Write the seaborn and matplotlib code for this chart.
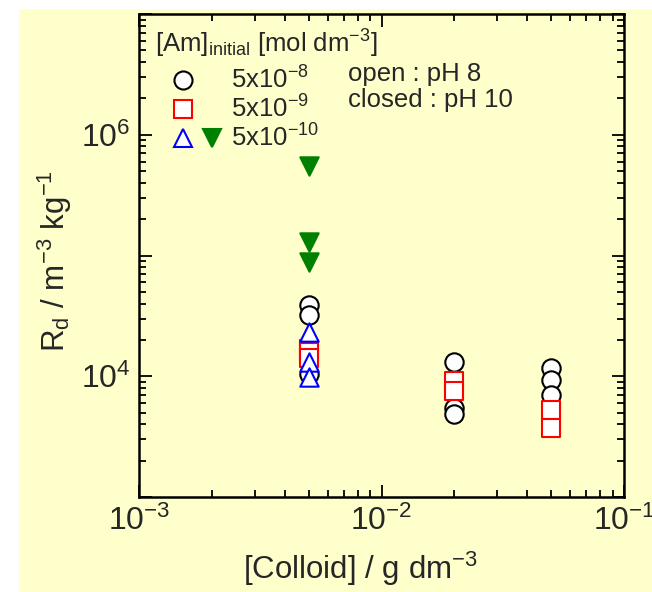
import numpy as np
import pandas as pd
import matplotlib; matplotlib.use('Agg')
import matplotlib.pyplot as plt
from matplotlib.lines import Line2D
from matplotlib.legend_handler import HandlerTuple
from matplotlib.patches import Rectangle
from matplotlib.ticker import LogLocator, FuncFormatter, NullFormatter
import seaborn as sns

# Rd vs colloid concentration, grouped by initial Am concentration / pH
colloid_5e8 = [0.005, 0.005, 0.005, 0.02, 0.02, 0.02, 0.05, 0.05, 0.05]
rd_5e8 = [3.9e4, 3.2e4, 1.05e4, 1.32e4, 5.5e3, 4.9e3, 1.16e4, 9.3e3, 7.0e3]

colloid_5e9 = [0.005, 0.005, 0.005, 0.02, 0.02, 0.05, 0.05]
rd_5e9 = [1.67e4, 1.58e4, 1.41e4, 9.1e3, 7.5e3, 5.25e3, 3.76e3]

colloid_5e10 = [0.005, 0.005, 0.005]
rd_5e10 = [2.33e4, 1.32e4, 9.8e3]

colloid_5e10_ph10 = [0.005, 0.005, 0.005]
rd_5e10_ph10 = [5.5e5, 1.3e5, 8.8e4]

legend_labels = [r'$\mathregular{5x10^{-8}}$', r'$\mathregular{5x10^{-9}}$',
                 r'$\mathregular{5x10^{-10}}$']

BG = '#FFFFCC'
FS = 18.5

sns.set_style('ticks')
plt.rcParams['font.family'] = ['Liberation Sans', 'DejaVu Sans']
plt.rcParams['mathtext.fontset'] = 'custom'
plt.rcParams['mathtext.rm'] = 'Liberation Sans'
plt.rcParams['mathtext.it'] = 'Liberation Sans:italic'
plt.rcParams['mathtext.bf'] = 'Liberation Sans:bold'

fig = plt.figure(figsize=(6.52, 5.92), dpi=100, facecolor=BG)
fig.patches.extend([
    Rectangle((0, 1 - 8 / 592), 1, 8 / 592, transform=fig.transFigure,
              color='white', zorder=-10),
    Rectangle((0, 0), 18 / 652, 1, transform=fig.transFigure,
              color='white', zorder=-10),
])
ax = fig.add_axes([139 / 652, 1 - 497 / 592, 485 / 652, 483 / 592])
ax.set_facecolor(BG)

groups = [
    (colloid_5e8, rd_5e8, 'o', 'white', 'black'),
    (colloid_5e9, rd_5e9, 's', 'white', 'red'),
    (colloid_5e10, rd_5e10, '^', 'white', 'blue'),
    (colloid_5e10_ph10, rd_5e10_ph10, 'v', 'green', 'green'),
]
for i, (xs, ys, mk, fc, ec) in enumerate(groups):
    df = pd.DataFrame({'colloid': xs, 'rd': ys})
    sns.scatterplot(data=df, x='colloid', y='rd', marker=mk, s=175,
                    facecolor=fc, edgecolor=ec, linewidth=1.5,
                    ax=ax, zorder=3 + i, legend=False)

ax.set_xscale('log')
ax.set_yscale('log')
ax.set_xlim(1e-3, 1e-1)
ax.set_ylim(1e3, 1e7)

ax.xaxis.set_major_locator(LogLocator(base=10, numticks=10))
ax.xaxis.set_minor_locator(LogLocator(base=10, subs=np.arange(2, 10), numticks=20))
ax.yaxis.set_major_locator(LogLocator(base=10, numticks=10))
ax.yaxis.set_minor_locator(LogLocator(base=10, subs=np.arange(2, 10), numticks=20))

def xfmt(v, p):
    e = int(round(np.log10(v)))
    return r'$\mathregular{10^{%d}}$' % e

def yfmt(v, p):
    e = int(round(np.log10(v)))
    return r'$\mathregular{10^{%d}}$' % e if e in (4, 6) else ''

ax.xaxis.set_major_formatter(FuncFormatter(xfmt))
ax.yaxis.set_major_formatter(FuncFormatter(yfmt))
ax.xaxis.set_minor_formatter(NullFormatter())
ax.yaxis.set_minor_formatter(NullFormatter())

ax.tick_params(which='both', direction='in', top=True, right=True,
               width=1.3, color='black')
ax.tick_params(which='major', length=9, labelsize=23, pad=6)
ax.tick_params(which='minor', length=5)
for sp in ax.spines.values():
    sp.set_linewidth(1.8)
    sp.set_color('black')

ax.set_xlabel(r'[Colloid] / g dm$^{\mathregular{-3}}$', fontsize=22.5)
ax.set_ylabel(r'$\mathregular{R_d}$ / m$^{\mathregular{-3}}$ kg$^{\mathregular{-1}}$',
              fontsize=22.5)
ax.xaxis.set_label_coords(0.456, -0.11)
ax.yaxis.set_label_coords(-0.135, 0.488)

# legend
ax.text(0.033, 0.921, r'[Am]$_{\mathregular{initial}}$ [mol dm$^{\mathregular{-3}}$]',
        transform=ax.transAxes, fontsize=FS, va='baseline', ha='left')

def mk(marker, fc, ec):
    return Line2D([], [], ls='none', marker=marker, ms=13, mfc=fc, mec=ec, mew=1.5)

blank = Line2D([], [], ls='none', marker='None')
handles = [
    (mk('o', 'white', 'black'), blank),
    (mk('s', 'white', 'red'), blank),
    (mk('^', 'white', 'blue'), mk('v', 'green', 'green')),
]
leg = ax.legend(handles, legend_labels,
                handler_map={tuple: HandlerTuple(ndivide=None, pad=0)},
                fontsize=FS, frameon=False,
                loc='upper left', bbox_to_anchor=(0.061, 0.891),
                borderaxespad=0, borderpad=0, handlelength=2.26,
                handletextpad=0.18, labelspacing=0.065)

ax.text(0.431, 0.875, 'open : pH 8', transform=ax.transAxes,
        fontsize=FS, va='center', ha='left')
ax.text(0.431, 0.822, 'closed : pH 10', transform=ax.transAxes,
        fontsize=FS, va='center', ha='left')

fig.savefig('out.png', dpi=100, facecolor=fig.get_facecolor())
